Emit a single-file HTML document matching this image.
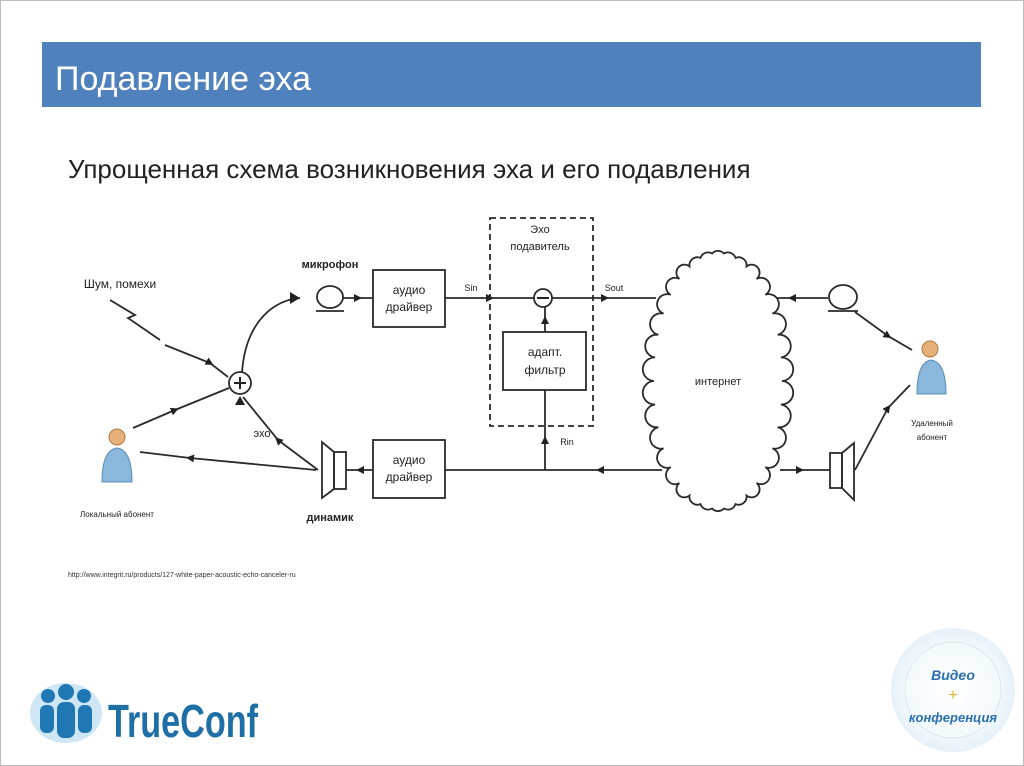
<!DOCTYPE html>
<html><head><meta charset="utf-8"><style>
html,body{margin:0;padding:0;background:#fff;width:1024px;height:766px;overflow:hidden;font-family:"Liberation Sans","DejaVu Sans",sans-serif}
</style></head><body>
<svg width="1024" height="766" viewBox="0 0 1024 766" xmlns="http://www.w3.org/2000/svg" font-family="Liberation Sans, DejaVu Sans, sans-serif">
<defs>
<marker id="a" markerWidth="8" markerHeight="8" refX="4" refY="4" orient="auto" markerUnits="userSpaceOnUse"><path d="M0,0 L8,4 L0,8z" fill="#222"/></marker>
<radialGradient id="g" cx="50%" cy="50%" r="50%"><stop offset="0" stop-color="#fff"/><stop offset="0.75" stop-color="#f3f9fc"/><stop offset="1" stop-color="#e6f1f8"/></radialGradient>
</defs>
<rect x="0" y="0" width="1024" height="766" fill="#fff"/>
<rect x="0.5" y="0.5" width="1023" height="765" fill="none" stroke="#bbb"/>
<rect x="42" y="42" width="939" height="65" fill="#4f81bd"/>
<text x="55" y="90" font-size="34" fill="#fff">Подавление эха</text>
<text x="68" y="178" font-size="26" fill="#222">Упрощенная схема возникновения эха и его подавления</text>

<g stroke="#2a2a2a" stroke-width="1.8" fill="none">
<rect x="373" y="270" width="72" height="57"/>
<rect x="373" y="440" width="72" height="58"/>
<rect x="503" y="332" width="83" height="58"/>
<rect x="490" y="218" width="103" height="208" stroke-dasharray="6,4"/>
<ellipse cx="330" cy="297" rx="13" ry="11"/>
<line x1="316" y1="311" x2="344" y2="311"/>
<polyline points="343,298 358,298 373,298" marker-mid="url(#a)"/>
<polyline points="445,298 490,298 534,298" marker-mid="url(#a)"/>
<circle cx="543" cy="298" r="9"/>
<polyline points="552,298 605,298 656,298" marker-mid="url(#a)"/>
<polyline points="545,332 545,320 545,307" marker-mid="url(#a)"/>
<polyline points="545,470 545,440 545,390" marker-mid="url(#a)"/>
<polyline points="662,470 600,470 445,470"  marker-mid="url(#a)"/>
<polyline points="373,470 360,470 346,470" marker-mid="url(#a)"/>
<rect x="334" y="452" width="12" height="37"/>
<polygon points="334,452 322,442 322,498 334,489"/>
<polyline points="828,298 792,298 776,298" marker-mid="url(#a)"/>
<ellipse cx="843" cy="297" rx="14" ry="12"/>
<line x1="828" y1="311" x2="858" y2="311"/>
<polyline points="780,470 800,470 830,470" marker-mid="url(#a)"/>
<rect x="830" y="453" width="12" height="35"/>
<polygon points="842,453 854,443 854,500 842,488"/>
<polyline points="855,312 888,336 912,350" marker-mid="url(#a)"/>
<polyline points="855,470 888,408 910,385" marker-mid="url(#a)"/>
<circle cx="240" cy="383" r="11"/>
<path d="M242,372 C246,320 275,300 300,298"/>
<polyline points="110,300 135,315 128,318 160,340"/>
<polyline points="165,345 210,363 228,377" marker-mid="url(#a)"/>
<polyline points="133,428 175,410 229,388" marker-mid="url(#a)"/>
<polyline points="318,470 278,440 243,397" marker-mid="url(#a)"/>
<polyline points="316,470 190,458 140,452" marker-mid="url(#a)"/>
<path id="cloud" d=""/>
</g>
<g fill="#222">
<path d="M300,298 L290,292 L290,304z"/>
<path d="M240,396 L235,405 L245,405z"/>
<path d="M234,383 h12 M240,377 v12" stroke="#222" stroke-width="2"/>
<path d="M537,298 h12" stroke="#222" stroke-width="2"/>
</g>
<g font-size="11" fill="#222" text-anchor="middle">
<text x="330" y="268" font-weight="bold">микрофон</text>
<text x="409" y="294" font-size="12">аудио</text><text x="409" y="311" font-size="12">драйвер</text>
<text x="409" y="464" font-size="12">аудио</text><text x="409" y="481" font-size="12">драйвер</text>
<text x="545" y="356" font-size="12">адапт.</text><text x="545" y="374" font-size="12">фильтр</text>
<text x="540" y="233">Эхо</text><text x="540" y="250">подавитель</text>
<text x="471" y="291" font-size="9">Sin</text>
<text x="614" y="291" font-size="9">Sout</text>
<text x="567" y="445" font-size="9">Rin</text>
<text x="718" y="385">интернет</text>
<text x="120" y="288" font-size="12">Шум, помехи</text>
<text x="262" y="437">эхо</text>
<text x="330" y="521" font-weight="bold">динамик</text>
<text x="117" y="517" font-size="8">Локальный абонент</text>
<text x="932" y="426" font-size="8">Удаленный</text>
<text x="932" y="440" font-size="8">абонент</text>
</g>
<text x="68" y="577" font-size="7" fill="#333">http://www.integrit.ru/products/127-white-paper-acoustic-echo-canceler-ru</text>
<g>
<path d="M102,482 Q102,450 117,448 Q132,450 132,482z" fill="#8ab8dc" stroke="#5a8cb5"/>
<circle cx="117" cy="437" r="8" fill="#e6b07a" stroke="#b07a40"/>
<path d="M917,394 Q917,362 931,360 Q946,362 946,394z" fill="#8ab8dc" stroke="#5a8cb5"/>
<circle cx="930" cy="349" r="8" fill="#e6b07a" stroke="#b07a40"/>
</g>
<g fill="#1f78b4">
<ellipse cx="66" cy="713" rx="36" ry="30" fill="#cfe6f5"/>
<circle cx="48" cy="696" r="7"/><circle cx="66" cy="692" r="8"/><circle cx="84" cy="696" r="7"/>
<rect x="40" y="705" width="14" height="28" rx="6"/><rect x="57" y="702" width="18" height="36" rx="7"/><rect x="78" y="705" width="14" height="28" rx="6"/>
<text x="108" y="737" font-size="46" font-weight="bold" fill="#1e6fa6" textLength="150" lengthAdjust="spacingAndGlyphs">TrueConf</text>
</g>
<circle cx="953" cy="690" r="62" fill="url(#g)"/>
<circle cx="953" cy="690" r="48" fill="none" stroke="#d8e9f3"/>
<text x="953" y="680" font-size="14" font-style="italic" fill="#2a6fb0" text-anchor="middle" font-weight="bold">Видео</text>
<text x="953" y="700" font-size="16" fill="#e8b030" text-anchor="middle">+</text>
<text x="953" y="722" font-size="13" font-style="italic" fill="#2a6fb0" text-anchor="middle" font-weight="bold">конференция</text>
</svg>
<script>
(function(){var cx=718,cy=381,rx=64,ry=128,n=34,d="";
for(var i=0;i<=n;i++){var t=i/n*2*Math.PI;var x=cx+rx*Math.cos(t),y=cy+ry*Math.sin(t);
if(i==0)d+="M"+x.toFixed(1)+","+y.toFixed(1);else d+=" A8,8 0 0,1 "+x.toFixed(1)+","+y.toFixed(1);}
var p=document.getElementById("cloud");p.setAttribute("d",d);p.setAttribute("fill","#fff");})();
</script>
</body></html>
